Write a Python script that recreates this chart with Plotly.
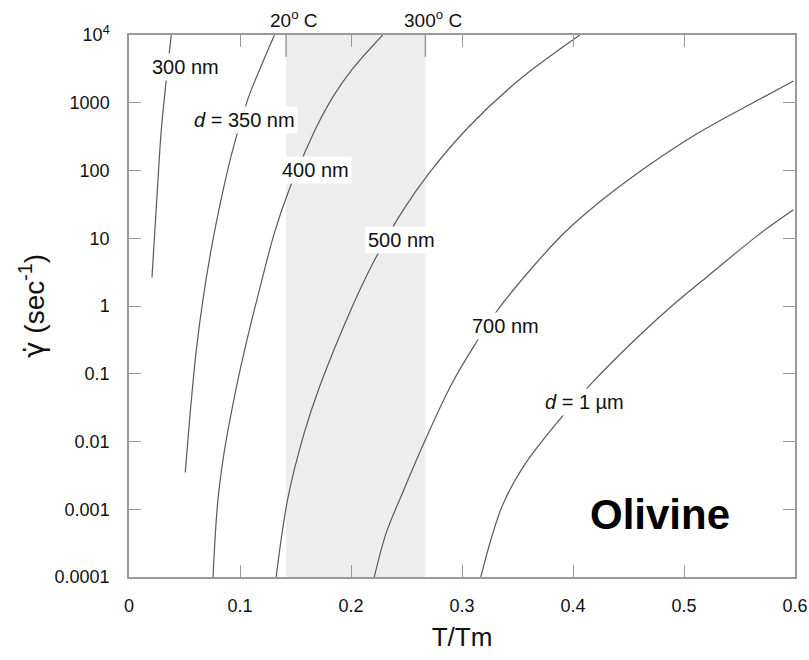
import plotly.graph_objects as go

# ---- data (T/Tm, log10 of strain rate in 1/s) ----
t_300 = [0.0207, 0.0252, 0.0291, 0.0336, 0.0381]
lg_300 = [0.42, 1.62, 2.60, 3.34, 4.0]

t_350 = [0.0507, 0.0546, 0.0576, 0.0606, 0.0665, 0.0741, 0.0831, 0.0921, 0.107, 0.119, 0.131]
lg_350 = [-2.455, -1.675, -1.135, -0.655, 0.08, 0.84, 1.58, 2.22, 3.05, 3.54, 4.0]

t_400 = [0.0757, 0.080, 0.086, 0.095, 0.104, 0.113, 0.122, 0.131, 0.143, 0.158, 0.170, 0.185, 0.2014, 0.2285]
lg_400 = [-4.0, -2.88, -2.13, -1.34, -0.66, -0.05, 0.53, 1.08, 1.66, 2.25, 2.68, 3.12, 3.50, 4.0]

t_500 = [0.1326, 0.143, 0.158, 0.1715, 0.2014, 0.2194, 0.2464, 0.2704, 0.3064, 0.3514, 0.4062]
lg_500 = [-4.0, -2.848, -1.866, -1.2, 0.0, 0.62, 1.40, 1.963, 2.650, 3.337, 4.0]

t_700 = [0.2210, 0.2315, 0.2464, 0.2674, 0.2914, 0.3124, 0.3334, 0.3873, 0.4173, 0.4622, 0.5131, 0.5671, 0.5986]
lg_700 = [-4.0, -3.36, -2.76, -1.96, -1.13, -0.55, -0.03, 1.0, 1.446, 2.007, 2.557, 3.043, 3.32]

t_1um = [0.3169, 0.3363, 0.3574, 0.3918, 0.4173, 0.4563, 0.4898, 0.5222, 0.567, 0.5986]
lg_1um = [-4.0, -2.95, -2.32, -1.60, -1.13, -0.49, 0.01, 0.45, 1.05, 1.42]

curve_labels = ["300 nm", "<i>d</i> = 350 nm", "400 nm", "500 nm", "700 nm", "<i>d</i> = 1 µm"]
label_t = [0.0513, 0.1038, 0.168, 0.2459, 0.339, 0.4107]
label_lg = [3.533, 2.748, 2.012, 0.969, -0.296, -1.42]

shade_t = [0.1415, 0.267]
shade_labels = ["20<sup>o</sup> C", "300<sup>o</sup> C"]

y_tickvals = [1e-4, 1e-3, 1e-2, 1e-1, 1, 10, 100, 1000, 1e4]
y_ticktext = ["0.0001", "0.001", "0.01", "0.1", "1", "10", "100", "1000", "10<sup>4</sup>"]
x_tickvals = [0, 0.1, 0.2, 0.3, 0.4, 0.5, 0.6]
x_ticktext = ["0", "0.1", "0.2", "0.3", "0.4", "0.5", "0.6"]

FONT = "Liberation Sans, Arial, Helvetica, sans-serif"
LINE = "#5a5a5a"
AXIS = "#9a9a9a"

fig = go.Figure()
for tx, lg in [(t_300, lg_300), (t_350, lg_350), (t_400, lg_400), (t_500, lg_500), (t_700, lg_700), (t_1um, lg_1um)]:
    gy = [10 ** v for v in lg]
    fig.add_trace(go.Scatter(x=tx, y=gy, mode="lines",
                             line=dict(color=LINE, width=1.2, shape="spline", smoothing=1.0),
                             showlegend=False, hoverinfo="skip"))

fig.add_vrect(x0=shade_t[0], x1=shade_t[1], fillcolor="#ededed", line_width=0, layer="below")

for t in shade_t:
    fig.add_shape(type="line", x0=t, x1=t, xref="x", y0=1, y1=0.96, yref="paper",
                  line=dict(color=AXIS, width=1.5))

for t, lab in zip(shade_t, shade_labels):
    fig.add_annotation(x=t, y=1.0, xref="x", yref="paper", yanchor="bottom", yshift=2, xshift=8, text=lab,
                       showarrow=False, font=dict(family=FONT, size=19, color="#111"))

for t, lg, lab in zip(label_t, label_lg, curve_labels):
    fig.add_annotation(x=t, y=lg, xref="x", yref="y", text=lab, showarrow=False, bgcolor="white",
                       borderpad=2, font=dict(family=FONT, size=20, color="#111"))

fig.add_annotation(x=0.4788, y=-3.081, xref="x", yref="y", text="<b>Olivine</b>", showarrow=False,
                   font=dict(family=FONT, size=42, color="#000"))

fig.update_xaxes(range=[0, 0.6], tickvals=x_tickvals, ticktext=x_ticktext, ticks="inside", ticklen=12,
                 tickwidth=1.3, tickcolor=AXIS, showline=True, linecolor=AXIS, linewidth=1.5, mirror="ticks",
                 showgrid=False, zeroline=False, tickfont=dict(family=FONT, size=18, color="#111"),
                 ticklabelstandoff=12, automargin=False,
                 title=dict(text="T/Tm", font=dict(family=FONT, size=26, color="#111"), standoff=12))
fig.update_yaxes(type="log", range=[-4, 4], tickvals=y_tickvals, ticktext=y_ticktext, ticks="inside", ticklen=12,
                 tickwidth=1.3, tickcolor=AXIS, showline=True, linecolor=AXIS, linewidth=1.5, mirror="ticks",
                 showgrid=False, zeroline=False, tickfont=dict(family=FONT, size=18, color="#111"),
                 ticklabelstandoff=14, automargin=False,
                 title=dict(text="<span style='font-family:DejaVu Sans'>γ̇</span> (sec<sup>-1</sup>)",
                            font=dict(family=FONT, size=28, color="#111"), standoff=2))

fig.update_layout(width=809, height=660, margin=dict(l=129, r=14, t=35, b=83),
                  plot_bgcolor="white", paper_bgcolor="white")

fig.write_html("out.html", config={"displayModeBar": False},
               post_script="document.body.style.margin='0px';document.body.style.overflow='hidden';")
